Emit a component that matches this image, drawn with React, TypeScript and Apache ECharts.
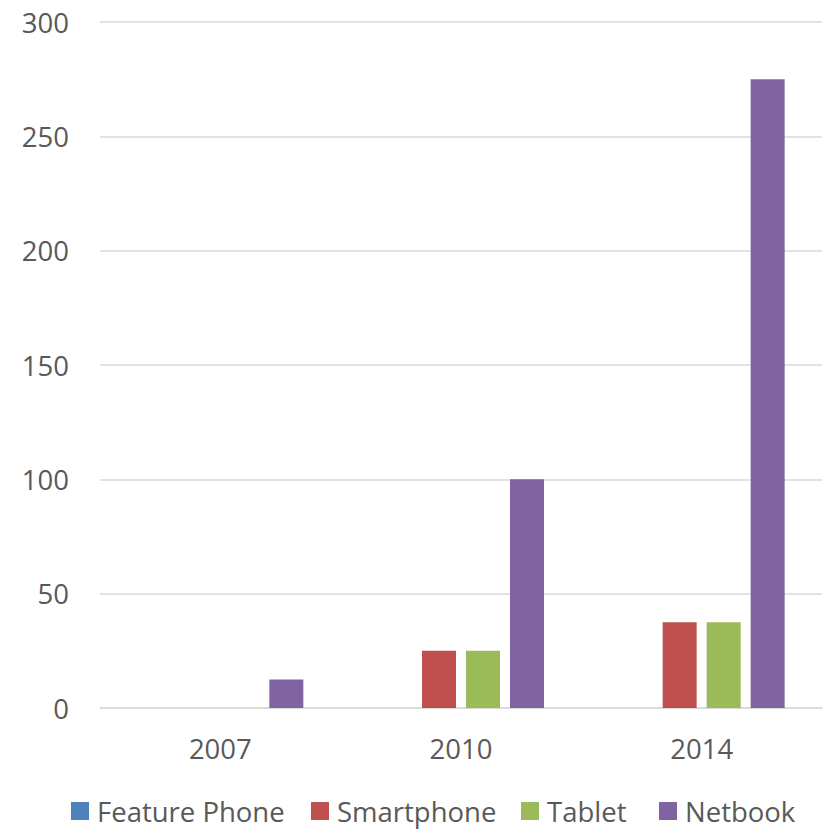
import React, { useEffect, useRef } from "react";
import * as echarts from "echarts";

const categories = ["2007", "2010", "2014"];
const featurePhone = [0, 0, 0];
const smartphone = [0, 25, 37.5];
const tablet = [0, 25, 37.5];
const netbook = [12.5, 100, 275];
const seriesNames = ["Feature Phone", "Smartphone", "Tablet", "Netbook"];
const colors = ["#4F81BD", "#C0504D", "#9BBB59", "#8064A2"];
const legendLefts = [71, 311, 521, 659];

export default function App() {
  const ref = useRef<HTMLDivElement>(null);
  useEffect(() => {
    if (!ref.current) return;
    const chart = echarts.init(ref.current, null, { renderer: "svg" });
    const font = "'Open Sans', 'Noto Sans', sans-serif";
    const fs = 27.5;
    const dataSets = [featurePhone, smartphone, tablet, netbook];
    chart.setOption({
      animation: false,
      backgroundColor: "#ffffff",
      textStyle: { fontFamily: font },
      grid: { left: 100, right: 5, top: 22, bottom: 121, containLabel: false },
      legend: seriesNames.map((name, i) => ({
        left: legendLefts[i],
        top: 796,
        padding: 0,
        icon: "rect",
        itemWidth: 18,
        itemHeight: 18,
        data: [name],
        textStyle: {
          color: "#595959",
          fontSize: fs,
          lineHeight: 30,
          fontFamily: font,
          padding: [0, 0, 0, 3],
        },
      })),
      xAxis: {
        type: "category",
        data: categories,
        axisLine: { show: true, lineStyle: { color: "#D9D9D9", width: 1.5 } },
        axisTick: { show: false },
        axisLabel: { color: "#595959", fontSize: fs, fontFamily: font, margin: 26 },
      },
      yAxis: {
        type: "value",
        min: 0,
        max: 300,
        interval: 50,
        axisLine: { show: false },
        axisTick: { show: false },
        splitLine: { lineStyle: { color: "#D9D9D9", width: 1.5 } },
        axisLabel: { color: "#595959", fontSize: fs, fontFamily: font, margin: 31 },
      },
      series: seriesNames.map((name, i) => ({
        name,
        type: "bar",
        data: dataSets[i],
        barWidth: 34,
        barGap: "29.4%",
        itemStyle: { color: colors[i] },
      })),
    });
    return () => chart.dispose();
  }, []);
  return (
    <div
      ref={ref}
      style={{ position: "fixed", left: 0, top: 0, width: 827, height: 829 }}
    />
  );
}
